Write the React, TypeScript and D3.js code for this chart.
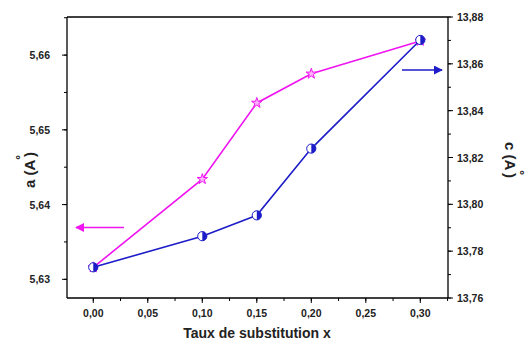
import React from 'react';
import * as d3 from 'd3';

// composition x
const xValues = [0.0, 0.1, 0.15, 0.2, 0.3];
// lattice parameter a (left axis)
const aValues = [5.6316, 5.6434, 5.6536, 5.6575, 5.6619];
// lattice parameter c (right axis)
const cValues = [13.7731, 13.7864, 13.7953, 13.8238, 13.8702];

const xTicks = [0, 0.05, 0.1, 0.15, 0.2, 0.25, 0.3];
const aTicks = [5.63, 5.64, 5.65, 5.66];
const cTicks = [13.76, 13.78, 13.8, 13.82, 13.84, 13.86, 13.88];

const W = 529;
const H = 342;
const left = 67;
const right = 448;
const top = 17;
const bottom = 298;

const MAGENTA = '#f014f0';
const BLUE = '#1c1cc8';
const FONT = 'Arial, "Liberation Sans", sans-serif';

const fmt = (d: number, n: number) => d.toFixed(n).replace('.', ',');

const App = () => {
  const x = d3.scaleLinear().domain([-0.0241, 0.3254]).range([left, right]);
  const yA = d3.scaleLinear().domain([5.6275, 5.6651]).range([bottom, top]);
  const yC = d3.scaleLinear().domain([13.76, 13.88]).range([bottom, top]);

  const lineA = d3.line<number>().x((_, i) => x(xValues[i])).y(d => yA(d));
  const lineC = d3.line<number>().x((_, i) => x(xValues[i])).y(d => yC(d));

  const star = d3.symbol().type(d3.symbolStar).size(34)();
  const halfArc = d3.arc()({ innerRadius: 0, outerRadius: 4.6, startAngle: 0, endAngle: Math.PI }) as string;

  const xMinor = d3.range(-0.025, 0.33, 0.025).filter(v => x(v) >= left && x(v) <= right);
  const aMinor = d3.range(5.625, 5.666, 0.005).filter(v => yA(v) >= top && yA(v) <= bottom);
  const cMinor = d3.range(13.76, 13.881, 0.01);

  return (
    <svg width={W} height={H} style={{ position: 'absolute', left: 0, top: 0, background: '#fff' }} fontFamily={FONT}>
      <rect width={W} height={H} fill="#fff" />
      {/* frame */}
      <g stroke="#000" strokeWidth={1.3} fill="none">
        <line x1={left} x2={right} y1={top} y2={top} />
        <line x1={left} x2={right} y1={bottom} y2={bottom} />
        <line x1={left} x2={left} y1={top} y2={bottom} />
        <line x1={right} x2={right} y1={top} y2={bottom} />
      </g>
      {/* ticks */}
      <g stroke="#000" strokeWidth={1}>
        {xMinor.map((v, i) => (
          <line key={i} x1={x(v)} x2={x(v)} y1={bottom} y2={bottom + 3} />
        ))}
        {xTicks.map((v, i) => (
          <line key={'m' + i} x1={x(v)} x2={x(v)} y1={bottom} y2={bottom + 5} />
        ))}
        {aMinor.map((v, i) => (
          <line key={'a' + i} x1={left} x2={left - 3} y1={yA(v)} y2={yA(v)} />
        ))}
        {aTicks.map((v, i) => (
          <line key={'A' + i} x1={left} x2={left - 5} y1={yA(v)} y2={yA(v)} />
        ))}
        {cMinor.map((v, i) => (
          <line key={'c' + i} x1={right} x2={right + 3} y1={yC(v)} y2={yC(v)} />
        ))}
        {cTicks.map((v, i) => (
          <line key={'C' + i} x1={right} x2={right + 5} y1={yC(v)} y2={yC(v)} />
        ))}
      </g>
      <g fontSize={10.5} fontWeight="bold" fill="#222">
        {xTicks.map((v, i) => (
          <text key={i} x={x(v)} y={317} textAnchor="middle">{fmt(v, 2)}</text>
        ))}
        {aTicks.map((v, i) => (
          <text key={'a' + i} x={50} y={yA(v) + 4} textAnchor="end">{fmt(v, 2)}</text>
        ))}
        {cTicks.map((v, i) => (
          <text key={'c' + i} x={457} y={yC(v) + 4} textAnchor="start">{fmt(v, 2)}</text>
        ))}
      </g>
      {/* axis titles */}
      <text x={257} y={338} textAnchor="middle" fontSize={14} fontWeight="bold" fill="#222">
        Taux de substitution x
      </text>
      <text transform={`translate(35,170) rotate(-90)`} textAnchor="middle" fontSize={15} fontWeight="bold" fill="#222">
        a (A<tspan dx={0} dy={-10} fontSize={12}>°</tspan><tspan dx={-2} dy={10}>)</tspan>
      </text>
      <text transform={`translate(505,160) rotate(90)`} textAnchor="middle" fontSize={15} fontWeight="bold" fill="#222">
        c (A<tspan dx={0} dy={-10} fontSize={12}>°</tspan><tspan dx={-2} dy={10}>)</tspan>
      </text>
      {/* arrows */}
      <defs>
        <marker id="hm" viewBox="0 0 10 10" refX={9} refY={5} markerWidth={9} markerHeight={9} markerUnits="userSpaceOnUse" orient="auto">
          <path d="M0,0 L10,5 L0,10 z" fill={MAGENTA} />
        </marker>
        <marker id="hb" viewBox="0 0 10 10" refX={9} refY={5} markerWidth={9} markerHeight={9} markerUnits="userSpaceOnUse" orient="auto">
          <path d="M0,0 L10,5 L0,10 z" fill={BLUE} />
        </marker>
      </defs>
      <line x1={124} x2={76} y1={227.5} y2={227.5} stroke={MAGENTA} strokeWidth={1.6} markerEnd="url(#hm)" />
      <line x1={402} x2={442} y1={70} y2={70} stroke={BLUE} strokeWidth={1.6} markerEnd="url(#hb)" />
      {/* series a */}
      <path d={lineA(aValues) as string} fill="none" stroke={MAGENTA} strokeWidth={1.6} />
      {aValues.map((v, i) => (
        <path key={i} d={star as string} transform={`translate(${x(xValues[i])},${yA(v)})`} fill="#ffb0ff" stroke={MAGENTA} strokeWidth={1} />
      ))}
      {/* series c */}
      <path d={lineC(cValues) as string} fill="none" stroke={BLUE} strokeWidth={1.6} />
      {cValues.map((v, i) => (
        <g key={i} transform={`translate(${x(xValues[i])},${yC(v)})`}>
          <circle r={4.6} fill="#fff" stroke={BLUE} strokeWidth={1} />
          <path d={halfArc} fill={BLUE} />
        </g>
      ))}
    </svg>
  );
};

export default App;
